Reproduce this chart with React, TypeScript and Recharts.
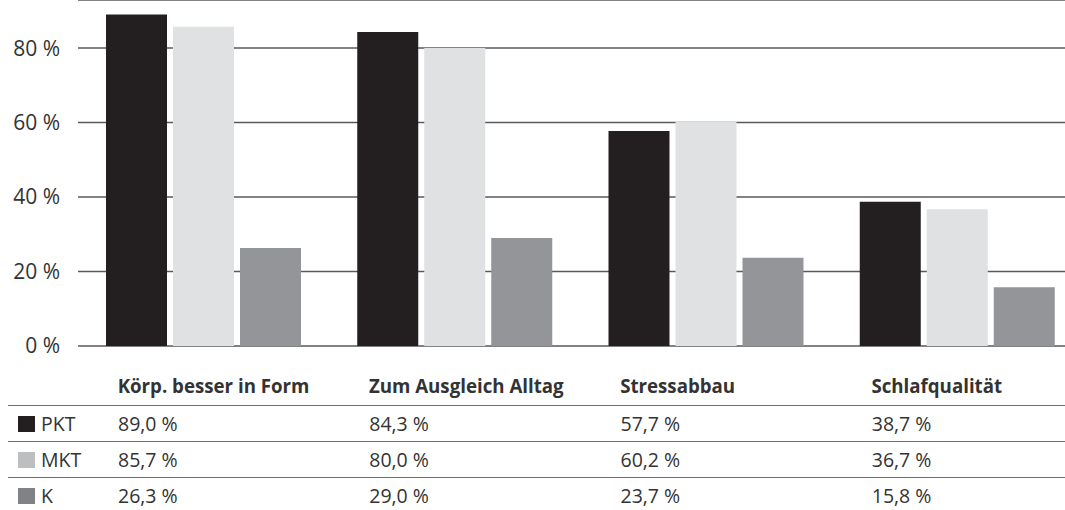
import { Bar, BarChart, CartesianGrid, XAxis, YAxis } from 'recharts';

const categories = ['Körp. besser in Form', 'Zum Ausgleich Alltag', 'Stressabbau', 'Schlafqualität'];
const pkt = [89.0, 84.3, 57.7, 38.7];
const mkt = [85.7, 80.0, 60.2, 36.7];
const k = [26.3, 29.0, 23.7, 15.8];
const yTicks = [0, 20, 40, 60, 80];

const SERIES = [
    { key: 'PKT', values: pkt, color: '#231f20', swatch: '#231f20' },
    { key: 'MKT', values: mkt, color: '#e0e1e3', swatch: '#bcbec0' },
    { key: 'K', values: k, color: '#939598', swatch: '#808285' },
];

const data = categories.map((name, i) => ({
    name,
    PKT: pkt[i],
    MKT: mkt[i],
    K: k[i],
}));

const FONT = '"Open Sans", sans-serif';
const TEXT = '#333333';
const CHART_W = 1083;
const PLOT_LEFT = 78;
const BAND = (CHART_W - PLOT_LEFT) / categories.length;

const fmt = (v: number) => `${v.toFixed(1).replace('.', ',')} %`;

function CategoryTick({ x, y, payload }: any) {
    return (
        <text x={x - 86} y={y + 47} fill={TEXT} fontFamily={FONT} fontSize={18.7} fontWeight={700}>
            {payload.value}
        </text>
    );
}

export default function App() {
    return (
        <div style={{ position: 'relative', width: 1065, height: 510, overflow: 'hidden', fontFamily: FONT }}>
            <style>{'body{margin:0;overflow:hidden}'}</style>
            <BarChart
                width={CHART_W}
                height={510}
                data={data}
                margin={{ top: 0, right: 0, bottom: 104, left: 0 }}
                barSize={61}
                barGap={6}
            >
                <CartesianGrid vertical={false} stroke="#58595b" strokeWidth={1.5} />
                <XAxis
                    dataKey="name"
                    axisLine={false}
                    tickLine={false}
                    tickSize={0}
                    tickMargin={0}
                    height={60}
                    interval={0}
                    tick={<CategoryTick />}
                />
                <YAxis
                    domain={[0, 92.9]}
                    ticks={yTicks}
                    allowDataOverflow
                    width={PLOT_LEFT}
                    axisLine={false}
                    tickLine={false}
                    tickSize={0}
                    tickMargin={18}
                    tickFormatter={(v) => `${v} %`}
                    tick={{ fill: TEXT, fontSize: 21, fontFamily: FONT }}
                />
                {SERIES.map((s) => (
                    <Bar key={s.key} dataKey={s.key} fill={s.color} isAnimationActive={false} />
                ))}
            </BarChart>
            {SERIES.map((s, r) => (
                <div
                    key={s.key}
                    style={{
                        position: 'absolute',
                        left: 8,
                        right: 0,
                        top: 405 + r * 36,
                        height: 36,
                        borderTop: '1.5px solid #6d6e71',
                        lineHeight: '35px',
                        fontSize: 19.5,
                        color: TEXT,
                    }}
                >
                    <span
                        style={{
                            position: 'absolute',
                            left: 10,
                            top: 10,
                            width: 17,
                            height: 16,
                            background: s.swatch,
                        }}
                    />
                    <span style={{ position: 'absolute', left: 33 }}>{s.key}</span>
                    {s.values.map((v, i) => (
                        <span key={i} style={{ position: 'absolute', left: PLOT_LEFT + i * BAND + 40 - 8 }}>
                            {fmt(v)}
                        </span>
                    ))}
                </div>
            ))}
        </div>
    );
}
